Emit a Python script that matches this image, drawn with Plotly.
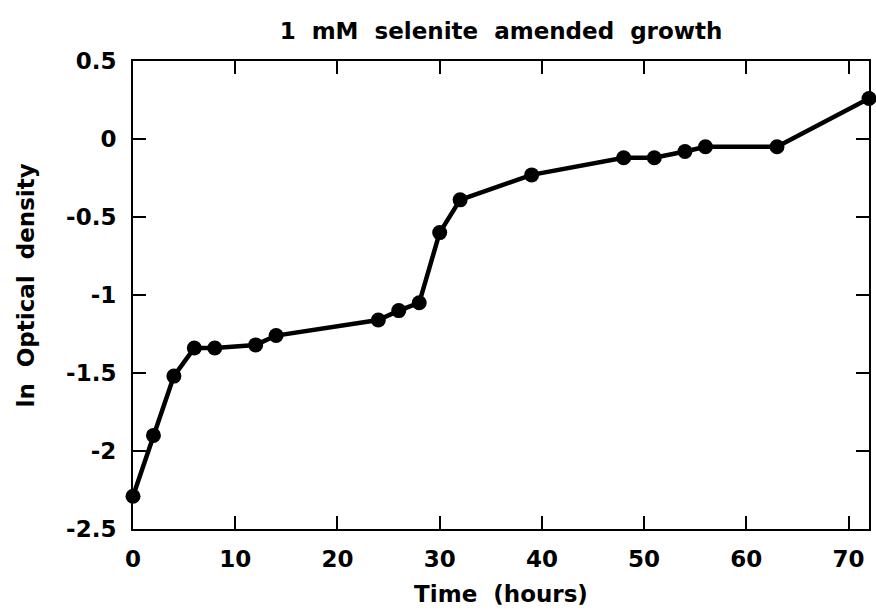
import plotly.graph_objects as go

time_hours = [0, 2, 4, 6, 8, 12, 14, 24, 26, 28, 30, 32, 39, 48, 51, 54, 56, 63, 72]
ln_od = [-2.29, -1.90, -1.52, -1.34, -1.34, -1.32, -1.26, -1.16, -1.10, -1.05,
         -0.60, -0.39, -0.23, -0.12, -0.12, -0.08, -0.05, -0.05, 0.26]

x_ticks = [0, 10, 20, 30, 40, 50, 60, 70]
y_ticks = [0.5, 0, -0.5, -1, -1.5, -2, -2.5]
y_tick_text = ["0.5", "0", "-0.5", "-1", "-1.5", "-2", "-2.5"]

FONT = "DejaVu Sans"
SIZE = 23
SP = " \u00a0"
W, H = 876, 611
L, R, T, B = 133, 7, 61, 82

fig = go.Figure()
fig.add_trace(go.Scatter(
    x=time_hours, y=ln_od, mode="lines+markers",
    line=dict(color="black", width=4.5),
    marker=dict(color="black", size=15),
    cliponaxis=False,
))

axis_common = dict(
    showgrid=False, zeroline=False, showline=True, linecolor="black", linewidth=2,
    mirror="ticks", ticks="inside", ticklen=13, tickwidth=2, tickcolor="black",
    automargin=False,
    tickfont=dict(family=FONT, size=SIZE, color="black", weight="bold"),
)

plot_w = W - L - R
plot_h = H - T - B

fig.update_layout(
    width=W, height=H,
    margin=dict(l=L, r=R, t=T, b=B),
    paper_bgcolor="white", plot_bgcolor="white",
    showlegend=False,
    title=dict(text=SP.join(["1", "mM", "selenite", "amended", "growth"]),
               x=501 / W, xanchor="center",
               y=1 - 31 / H, yanchor="middle",
               font=dict(family=FONT, size=SIZE, color="black", weight="bold")),
    xaxis=dict(range=[0, 72], tickvals=x_ticks, ticklabelstandoff=8,
               title=dict(text=SP.join(["Time", "(hours)"]), standoff=15,
                          font=dict(family=FONT, size=SIZE, color="black", weight="bold")),
               **axis_common),
    yaxis=dict(range=[-2.5, 0.5], tickvals=y_ticks, ticktext=y_tick_text,
               ticklabelstandoff=10,
               **axis_common),
    annotations=[dict(
        text=SP.join(["ln", "Optical", "density"]),
        xref="paper", yref="paper",
        x=(25 - L) / plot_w, y=(H - B - 285.5) / plot_h,
        xanchor="center", yanchor="middle", textangle=-90, showarrow=False,
        font=dict(family=FONT, size=SIZE, color="black", weight="bold"),
    )],
)

fig.write_html("out.html", config={"displayModeBar": False},
               post_script="document.body.style.margin='0';")
